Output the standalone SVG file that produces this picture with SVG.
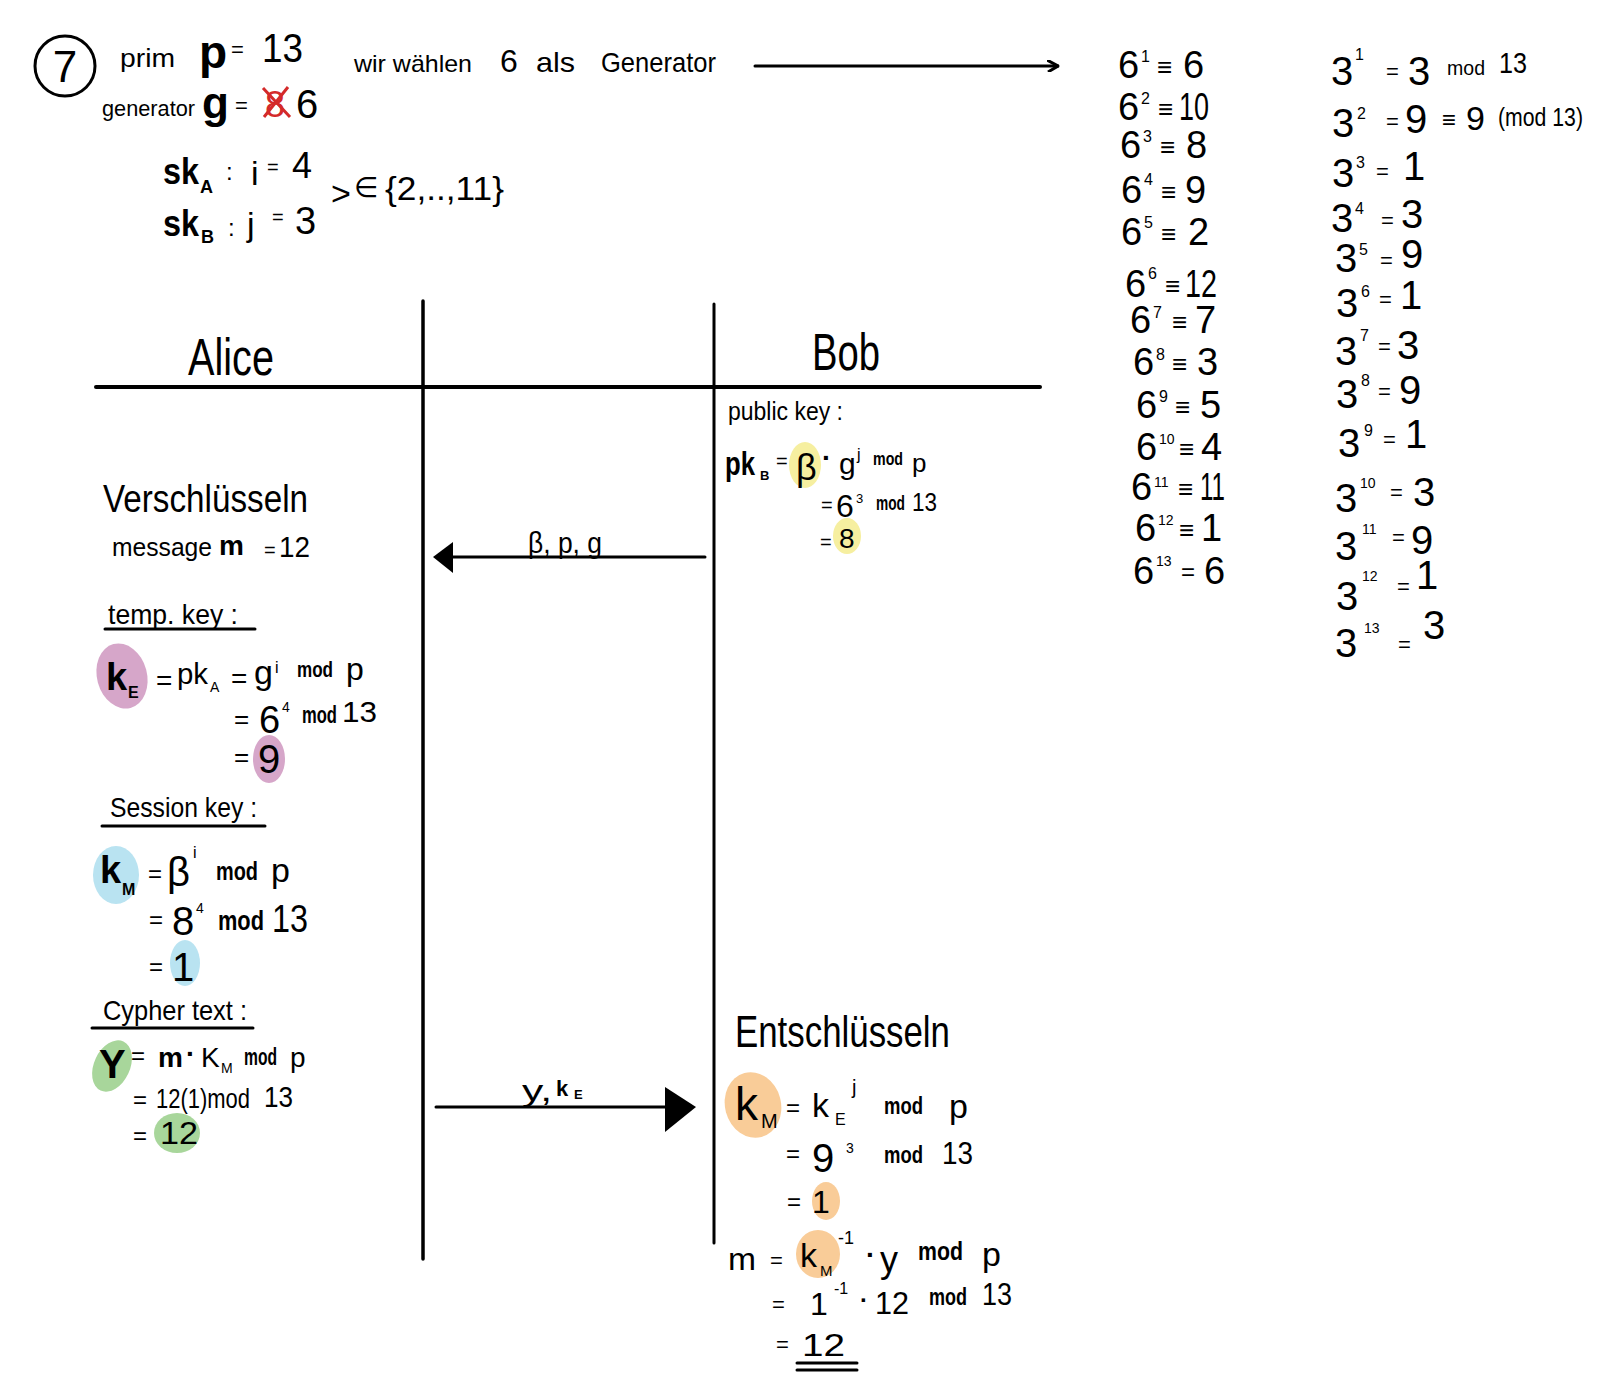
<svg xmlns="http://www.w3.org/2000/svg" width="1611" height="1395" viewBox="0 0 1611 1395">
<style>
text{font-family:"Liberation Sans","DejaVu Sans",Arial,sans-serif;fill:#000}
.b{font-weight:bold}
.r{fill:#d42a2a}
.ln{stroke:#000;fill:none;stroke-linecap:round}
.pink{fill:#d6a6c9}.blue{fill:#b9e3f1}.green{fill:#a8d69b}.yellow{fill:#f6efa0}.orange{fill:#f9cc98}
</style>
<defs>
<marker id="open" viewBox="0 0 12 12" refX="11" refY="6" markerWidth="12" markerHeight="12" markerUnits="userSpaceOnUse" orient="auto"><path d="M0,0 L11,6 L1,12" fill="none" stroke="#000" stroke-width="3"/></marker>
</defs>
<rect width="1611" height="1395" fill="#fff"/>

<g id="header">
<circle cx="65" cy="66" r="30" class="ln" stroke-width="3"/>
<text x="65" y="82" font-size="44" text-anchor="middle">7</text>
<text x="120" y="67" font-size="26" textLength="55" lengthAdjust="spacingAndGlyphs">prim</text>
<text x="199" y="68" font-size="46" class="b">p</text>
<text x="231" y="57" font-size="22">=</text>
<text x="262" y="62" font-size="40" textLength="41" lengthAdjust="spacingAndGlyphs">13</text>
<text x="102" y="116" font-size="22" textLength="93" lengthAdjust="spacingAndGlyphs">generator</text>
<text x="202" y="118" font-size="44" class="b">g</text>
<text x="235" y="113" font-size="22">=</text>
<text x="265" y="117" font-size="36" class="r">8</text>
<path d="M263,88 L290,117 M288,87 L264,117" stroke="#d42a2a" stroke-width="3" fill="none"/>
<text x="296" y="118" font-size="40">6</text>
<text x="163" y="184" font-size="36" class="b" textLength="36" lengthAdjust="spacingAndGlyphs">sk</text>
<text x="200" y="193" font-size="18" class="b">A</text>
<text x="226" y="180" font-size="24">:</text>
<text x="251" y="185" font-size="34">i</text>
<text x="267" y="174" font-size="20">=</text>
<text x="292" y="178" font-size="36">4</text>
<text x="163" y="236" font-size="36" class="b" textLength="36" lengthAdjust="spacingAndGlyphs">sk</text>
<text x="201" y="243" font-size="18" class="b">B</text>
<text x="228" y="236" font-size="24">:</text>
<text x="247" y="236" font-size="34">j</text>
<text x="272" y="224" font-size="20">=</text>
<text x="295" y="234" font-size="38">3</text>
<text x="331" y="205" font-size="34">&gt;</text>
<text x="354" y="197" font-size="28">∈</text>
<text x="385" y="200" font-size="34" textLength="119" lengthAdjust="spacingAndGlyphs">{2,..,11}</text>
<text x="354" y="72" font-size="24" textLength="118" lengthAdjust="spacingAndGlyphs">wir wählen</text>
<text x="500" y="72" font-size="32">6</text>
<text x="536" y="72" font-size="28" textLength="39" lengthAdjust="spacingAndGlyphs">als</text>
<text x="601" y="72" font-size="28" textLength="115" lengthAdjust="spacingAndGlyphs">Generator</text>
</g>

<g id="powers-of-6" font-size="38">
<text x="1118" y="78">6</text><text x="1141" y="62" font-size="16">1</text><text x="1157" y="76" font-size="26">≡</text><text x="1183" y="78">6</text>
<text x="1118" y="120">6</text><text x="1141" y="104" font-size="16">2</text><text x="1158" y="118" font-size="26">≡</text><text x="1179" y="120" textLength="30" lengthAdjust="spacingAndGlyphs">10</text>
<text x="1120" y="158">6</text><text x="1143" y="142" font-size="16">3</text><text x="1160" y="156" font-size="26">≡</text><text x="1186" y="158">8</text>
<text x="1121" y="203">6</text><text x="1144" y="185" font-size="16">4</text><text x="1161" y="201" font-size="26">≡</text><text x="1185" y="203">9</text>
<text x="1121" y="245">6</text><text x="1144" y="228" font-size="16">5</text><text x="1161" y="243" font-size="26">≡</text><text x="1188" y="245">2</text>
<text x="1125" y="297">6</text><text x="1148" y="279" font-size="16">6</text><text x="1165" y="295" font-size="26">≡</text><text x="1185" y="297" textLength="32" lengthAdjust="spacingAndGlyphs">12</text>
<text x="1130" y="333">6</text><text x="1153" y="318" font-size="16">7</text><text x="1172" y="331" font-size="26">≡</text><text x="1195" y="333">7</text>
<text x="1133" y="375">6</text><text x="1156" y="360" font-size="16">8</text><text x="1172" y="373" font-size="26">≡</text><text x="1197" y="375">3</text>
<text x="1136" y="418">6</text><text x="1159" y="402" font-size="16">9</text><text x="1175" y="416" font-size="26">≡</text><text x="1200" y="418">5</text>
<text x="1136" y="460">6</text><text x="1159" y="444" font-size="14">10</text><text x="1179" y="458" font-size="26">≡</text><text x="1201" y="460">4</text>
<text x="1131" y="500">6</text><text x="1154" y="487" font-size="14">11</text><text x="1178" y="498" font-size="26">≡</text><text x="1200" y="500" textLength="25" lengthAdjust="spacingAndGlyphs">11</text>
<text x="1135" y="541">6</text><text x="1158" y="525" font-size="14">12</text><text x="1179" y="539" font-size="26">≡</text><text x="1201" y="541">1</text>
<text x="1133" y="584">6</text><text x="1156" y="566" font-size="14">13</text><text x="1181" y="580" font-size="24">=</text><text x="1204" y="584">6</text>
</g>

<g id="powers-of-3" font-size="40">
<text x="1331" y="85">3</text><text x="1355" y="60" font-size="16">1</text><text x="1386" y="79" font-size="22">=</text><text x="1408" y="85">3</text><text x="1447" y="75" font-size="20" textLength="38" lengthAdjust="spacingAndGlyphs">mod</text><text x="1499" y="73" font-size="30" textLength="28" lengthAdjust="spacingAndGlyphs">13</text>
<text x="1332" y="137">3</text><text x="1357" y="119" font-size="16">2</text><text x="1386" y="129" font-size="22">=</text><text x="1405" y="133">9</text><text x="1442" y="128" font-size="24">≡</text><text x="1466" y="130" font-size="34">9</text><text x="1498" y="126" font-size="26" textLength="85" lengthAdjust="spacingAndGlyphs">(mod 13)</text>
<text x="1332" y="187">3</text><text x="1356" y="168" font-size="16">3</text><text x="1376" y="179" font-size="22">=</text><text x="1403" y="180">1</text>
<text x="1331" y="232">3</text><text x="1355" y="214" font-size="16">4</text><text x="1381" y="228" font-size="22">=</text><text x="1401" y="228">3</text>
<text x="1335" y="272">3</text><text x="1359" y="255" font-size="16">5</text><text x="1380" y="268" font-size="22">=</text><text x="1401" y="268">9</text>
<text x="1336" y="317">3</text><text x="1361" y="297" font-size="16">6</text><text x="1379" y="307" font-size="22">=</text><text x="1400" y="309">1</text>
<text x="1335" y="365">3</text><text x="1360" y="341" font-size="16">7</text><text x="1378" y="354" font-size="22">=</text><text x="1397" y="359">3</text>
<text x="1336" y="408">3</text><text x="1361" y="386" font-size="16">8</text><text x="1378" y="399" font-size="22">=</text><text x="1399" y="404">9</text>
<text x="1338" y="457">3</text><text x="1364" y="436" font-size="16">9</text><text x="1383" y="447" font-size="22">=</text><text x="1405" y="448">1</text>
<text x="1335" y="512">3</text><text x="1360" y="488" font-size="14">10</text><text x="1390" y="500" font-size="22">=</text><text x="1413" y="506">3</text>
<text x="1335" y="560">3</text><text x="1362" y="534" font-size="14">11</text><text x="1392" y="545" font-size="22">=</text><text x="1411" y="554">9</text>
<text x="1336" y="610">3</text><text x="1362" y="581" font-size="14">12</text><text x="1397" y="594" font-size="22">=</text><text x="1416" y="589">1</text>
<text x="1335" y="657">3</text><text x="1364" y="633" font-size="14">13</text><text x="1398" y="652" font-size="22">=</text><text x="1423" y="639">3</text>
</g>

<g id="lanes">
<line x1="96" y1="387" x2="1040" y2="387" class="ln" stroke-width="4"/>
<line x1="423" y1="301" x2="423" y2="1259" class="ln" stroke-width="3.5"/>
<line x1="714" y1="304" x2="714" y2="1243" class="ln" stroke-width="3"/>
<text x="188" y="375" font-size="52" textLength="86" lengthAdjust="spacingAndGlyphs">Alice</text>
<text x="812" y="370" font-size="52" textLength="68" lengthAdjust="spacingAndGlyphs">Bob</text>
</g>

<g id="alice">
<ellipse cx="122" cy="676" rx="25" ry="33" transform="rotate(-15 122 676)" class="pink"/>
<ellipse cx="269" cy="759" rx="16" ry="24" class="pink"/>
<ellipse cx="116" cy="875" rx="23" ry="29" class="blue"/>
<ellipse cx="185" cy="963" rx="15" ry="23" class="blue"/>
<ellipse cx="112" cy="1066" rx="18" ry="27" transform="rotate(25 112 1066)" class="green"/>
<ellipse cx="177" cy="1133" rx="23" ry="20" class="green"/>

<text x="103" y="512" font-size="38" textLength="205" lengthAdjust="spacingAndGlyphs">Verschlüsseln</text>
<text x="112" y="556" font-size="26" textLength="100" lengthAdjust="spacingAndGlyphs">message</text>
<text x="219" y="555" font-size="28" class="b">m</text>
<text x="264" y="557" font-size="20">=</text>
<text x="279" y="557" font-size="30" textLength="31" lengthAdjust="spacingAndGlyphs">12</text>

<text x="108" y="624" font-size="28" textLength="130" lengthAdjust="spacingAndGlyphs">temp. key :</text>
<line x1="105" y1="629" x2="255" y2="629" class="ln" stroke-width="3"/>
<text x="106" y="690" font-size="38" class="b">k</text><text x="128" y="698" font-size="16" class="b">E</text>
<text x="156" y="690" font-size="28">=</text>
<text x="177" y="684" font-size="30" textLength="31" lengthAdjust="spacingAndGlyphs">pk</text><text x="210" y="692" font-size="14">A</text>
<text x="231" y="688" font-size="28">=</text>
<text x="254" y="684" font-size="34">g</text><text x="275" y="673" font-size="16">i</text>
<text x="297" y="677" font-size="22" class="b" textLength="36" lengthAdjust="spacingAndGlyphs">mod</text>
<text x="346" y="680" font-size="32">p</text>
<text x="234" y="728" font-size="26">=</text>
<text x="259" y="733" font-size="38">6</text><text x="282" y="712" font-size="14">4</text>
<text x="302" y="723" font-size="24" class="b" textLength="35" lengthAdjust="spacingAndGlyphs">mod</text>
<text x="342" y="722" font-size="30" textLength="35" lengthAdjust="spacingAndGlyphs">13</text>
<text x="234" y="766" font-size="26">=</text>
<text x="258" y="773" font-size="40">9</text>

<text x="110" y="817" font-size="28" textLength="147" lengthAdjust="spacingAndGlyphs">Session key :</text>
<line x1="102" y1="826" x2="265" y2="826" class="ln" stroke-width="3"/>
<text x="100" y="883" font-size="38" class="b">k</text><text x="122" y="895" font-size="16" class="b">M</text>
<text x="148" y="882" font-size="24">=</text>
<text x="167" y="886" font-size="40">β</text><text x="193" y="858" font-size="16">i</text>
<text x="216" y="880" font-size="26" class="b" textLength="42" lengthAdjust="spacingAndGlyphs">mod</text>
<text x="271" y="882" font-size="34">p</text>
<text x="149" y="928" font-size="24">=</text>
<text x="172" y="935" font-size="40">8</text><text x="196" y="913" font-size="14">4</text>
<text x="218" y="930" font-size="28" class="b" textLength="46" lengthAdjust="spacingAndGlyphs">mod</text>
<text x="272" y="932" font-size="38" textLength="36" lengthAdjust="spacingAndGlyphs">13</text>
<text x="149" y="975" font-size="24">=</text>
<text x="172" y="981" font-size="40">1</text>

<text x="103" y="1020" font-size="28" textLength="144" lengthAdjust="spacingAndGlyphs">Cypher text :</text>
<line x1="92" y1="1028" x2="253" y2="1028" class="ln" stroke-width="3"/>
<text x="99" y="1078" font-size="40" class="b">Y</text>
<text x="131" y="1064" font-size="24">=</text>
<text x="158" y="1067" font-size="28" class="b">m</text>
<text x="186" y="1063" font-size="28" class="b">·</text>
<text x="201" y="1067" font-size="28">K</text><text x="221" y="1073" font-size="14">M</text>
<text x="244" y="1065" font-size="23" class="b" textLength="33" lengthAdjust="spacingAndGlyphs">mod</text>
<text x="290" y="1067" font-size="28">p</text>
<text x="133" y="1108" font-size="24">=</text>
<text x="156" y="1108" font-size="27" textLength="94" lengthAdjust="spacingAndGlyphs">12(1)mod</text>
<text x="264" y="1107" font-size="29" textLength="29" lengthAdjust="spacingAndGlyphs">13</text>
<text x="133" y="1144" font-size="24">=</text>
<text x="160" y="1144" font-size="32" textLength="38" lengthAdjust="spacingAndGlyphs">12</text>
</g>

<g id="bob">
<ellipse cx="805" cy="465" rx="16" ry="23" class="yellow"/>
<ellipse cx="847" cy="536" rx="14" ry="18" class="yellow"/>
<ellipse cx="753" cy="1105" rx="28" ry="33" transform="rotate(-15 753 1105)" class="orange"/>
<ellipse cx="826" cy="1201" rx="14" ry="19" class="orange"/>
<ellipse cx="818" cy="1254" rx="22" ry="24" class="orange"/>

<text x="728" y="420" font-size="26" textLength="115" lengthAdjust="spacingAndGlyphs">public key :</text>
<text x="725" y="475" font-size="34" class="b" textLength="30" lengthAdjust="spacingAndGlyphs">pk</text><text x="760" y="480" font-size="13" class="b">B</text>
<text x="776" y="468" font-size="20">=</text>
<text x="796" y="480" font-size="36">β</text>
<text x="822" y="467" font-size="28" class="b">·</text>
<text x="839" y="474" font-size="30">g</text><text x="857" y="460" font-size="16">j</text>
<text x="873" y="465" font-size="18" class="b" textLength="30" lengthAdjust="spacingAndGlyphs">mod</text>
<text x="912" y="472" font-size="26">p</text>
<text x="821" y="512" font-size="20">=</text>
<text x="836" y="517" font-size="32">6</text><text x="856" y="503" font-size="13">3</text>
<text x="876" y="510" font-size="20" class="b" textLength="29" lengthAdjust="spacingAndGlyphs">mod</text>
<text x="912" y="511" font-size="26" textLength="25" lengthAdjust="spacingAndGlyphs">13</text>
<text x="820" y="549" font-size="20">=</text>
<text x="839" y="548" font-size="28">8</text>

<text x="735" y="1047" font-size="44" textLength="215" lengthAdjust="spacingAndGlyphs">Entschlüsseln</text>
<text x="735" y="1120" font-size="46">k</text><text x="761" y="1128" font-size="20">M</text>
<text x="786" y="1116" font-size="24">=</text>
<text x="812" y="1117" font-size="34">k</text><text x="835" y="1125" font-size="16">E</text><text x="852" y="1094" font-size="20">j</text>
<text x="884" y="1114" font-size="24" class="b" textLength="39" lengthAdjust="spacingAndGlyphs">mod</text>
<text x="949" y="1118" font-size="34">p</text>
<text x="786" y="1162" font-size="24">=</text>
<text x="812" y="1172" font-size="40">9</text><text x="846" y="1153" font-size="14">3</text>
<text x="884" y="1163" font-size="24" class="b" textLength="39" lengthAdjust="spacingAndGlyphs">mod</text>
<text x="942" y="1164" font-size="32" textLength="31" lengthAdjust="spacingAndGlyphs">13</text>
<text x="787" y="1210" font-size="24">=</text>
<text x="812" y="1213" font-size="32">1</text>
<text x="728" y="1270" font-size="32" textLength="28" lengthAdjust="spacingAndGlyphs">m</text>
<text x="770" y="1268" font-size="22">=</text>
<text x="800" y="1267" font-size="34">k</text><text x="820" y="1276" font-size="15">M</text><text x="838" y="1244" font-size="18">-1</text>
<text x="866" y="1264" font-size="28" class="b">·</text>
<text x="880" y="1272" font-size="36">y</text>
<text x="918" y="1260" font-size="26" class="b" textLength="45" lengthAdjust="spacingAndGlyphs">mod</text>
<text x="982" y="1266" font-size="34">p</text>
<text x="772" y="1312" font-size="22">=</text>
<text x="810" y="1315" font-size="32">1</text><text x="834" y="1294" font-size="16">-1</text>
<text x="860" y="1308" font-size="24" class="b">·</text>
<text x="875" y="1314" font-size="32" textLength="34" lengthAdjust="spacingAndGlyphs">12</text>
<text x="929" y="1305" font-size="24" class="b" textLength="38" lengthAdjust="spacingAndGlyphs">mod</text>
<text x="982" y="1305" font-size="32" textLength="30" lengthAdjust="spacingAndGlyphs">13</text>
<text x="776" y="1352" font-size="22">=</text>
<text x="802" y="1356" font-size="32" textLength="43" lengthAdjust="spacingAndGlyphs">12</text>
<line x1="797" y1="1363" x2="857" y2="1363" class="ln" stroke-width="3"/>
<line x1="797" y1="1370" x2="857" y2="1370" class="ln" stroke-width="3"/>
</g>

<g id="connectors">
<line x1="755" y1="66" x2="1058" y2="66" class="ln" stroke-width="3" marker-end="url(#open)"/>
<line x1="705" y1="557" x2="448" y2="557" class="ln" stroke-width="3"/>
<polygon points="433,557 453,542 453,573" fill="#000"/>
<text x="528" y="553" font-size="30" textLength="74" lengthAdjust="spacingAndGlyphs">β, p, g</text>
<line x1="436" y1="1107" x2="668" y2="1107" class="ln" stroke-width="3"/>
<polygon points="665,1087 696,1107 665,1132" fill="#000"/>
<text x="522" y="1101" font-size="30" textLength="30" lengthAdjust="spacingAndGlyphs">y,</text>
<text x="556" y="1096" font-size="22" class="b">k</text><text x="574" y="1099" font-size="13" class="b">E</text>
</g>
</svg>
